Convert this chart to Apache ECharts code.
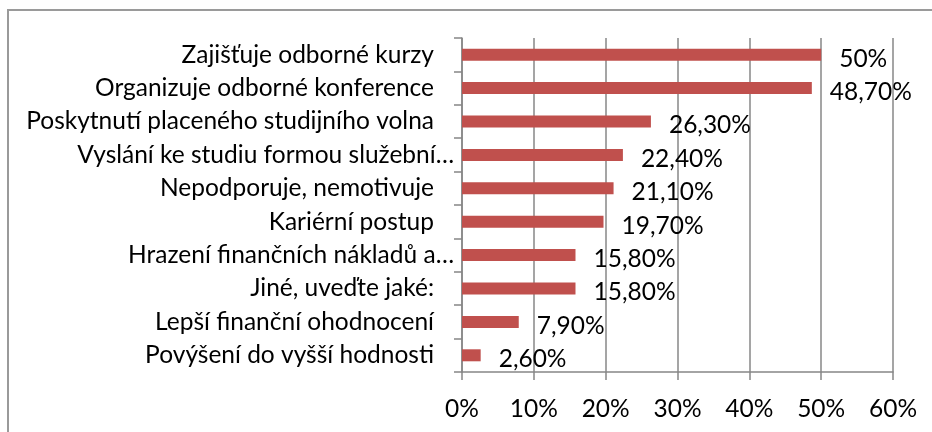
<!DOCTYPE html>
<html>
<head>
<meta charset="utf-8">
<script src="https://cdn.jsdelivr.net/npm/echarts@6/dist/echarts.min.js"></script>
<style>
html,body{margin:0;padding:0;background:#fff;}
#c{width:932px;height:432px;}
</style>
</head>
<body>
<div id="c"></div>
<script>
const categories = [
  "Zajišťuje odborné kurzy",
  "Organizuje odborné konference",
  "Poskytnutí placeného studijního volna",
  "Vyslání ke studiu formou služební…",
  "Nepodporuje, nemotivuje",
  "Kariérní postup",
  "Hrazení finančních nákladů a…",
  "Jiné, uveďte jaké:",
  "Lepší finanční ohodnocení",
  "Povýšení do vyšší hodnosti"
];
const values = [50, 48.7, 26.3, 22.4, 21.1, 19.7, 15.8, 15.8, 7.9, 2.6];
const xTicks = [0, 10, 20, 30, 40, 50, 60];

const FONT = 'Lato';
const FS = 24.5;
const chart = echarts.init(document.getElementById('c'), null, {renderer: 'canvas'});
const fmtVal = v => Number.isInteger(v) ? v + '%' : v.toFixed(2).replace('.', ',') + '%';

chart.setOption({
  animation: false,
  grid: {left: 462, right: 39, top: 38, bottom: 60, containLabel: false},
  graphic: [{
    type: 'rect', silent: true,
    shape: {x: 8, y: 10, width: 950, height: 450},
    style: {fill: 'none', stroke: '#9a9a9a', lineWidth: 2}
  }],
  xAxis: {
    type: 'value', min: xTicks[0], max: xTicks[xTicks.length - 1], interval: 10,
    axisLine: {show: true, lineStyle: {color: '#878787', width: 1.5}},
    axisTick: {show: true, length: 8, lineStyle: {color: '#878787', width: 1.5}},
    splitLine: {show: true, lineStyle: {color: '#878787', width: 1.5}},
    axisLabel: {
      margin: 25, color: '#000', fontFamily: FONT, fontSize: FS,
      formatter: v => v + '%'
    }
  },
  yAxis: {
    type: 'category', data: categories, inverse: true,
    axisLine: {show: true, lineStyle: {color: '#878787', width: 1.5}},
    axisTick: {show: true, length: 8, lineStyle: {color: '#878787', width: 1.5}},
    splitLine: {show: false},
    axisLabel: {
      margin: 8, color: '#000', fontFamily: FONT, fontSize: FS,
      formatter: v => v.endsWith('…') ? '{e|' + v + '}' : '{n|' + v + '}',
      rich: {
        e: {fontFamily: FONT, fontSize: FS, color: '#000'},
        n: {fontFamily: FONT, fontSize: FS, color: '#000', padding: [0, 20, 0, 0]}
      }
    }
  },
  series: [{
    type: 'bar', data: values, barWidth: 12,
    itemStyle: {color: '#C0504D'},
    label: {
      show: true, position: 'right', distance: 18, offset: [0, 4],
      color: '#000', fontFamily: FONT, fontSize: FS,
      formatter: p => fmtVal(p.value)
    }
  }]
});
</script>
</body>
</html>
